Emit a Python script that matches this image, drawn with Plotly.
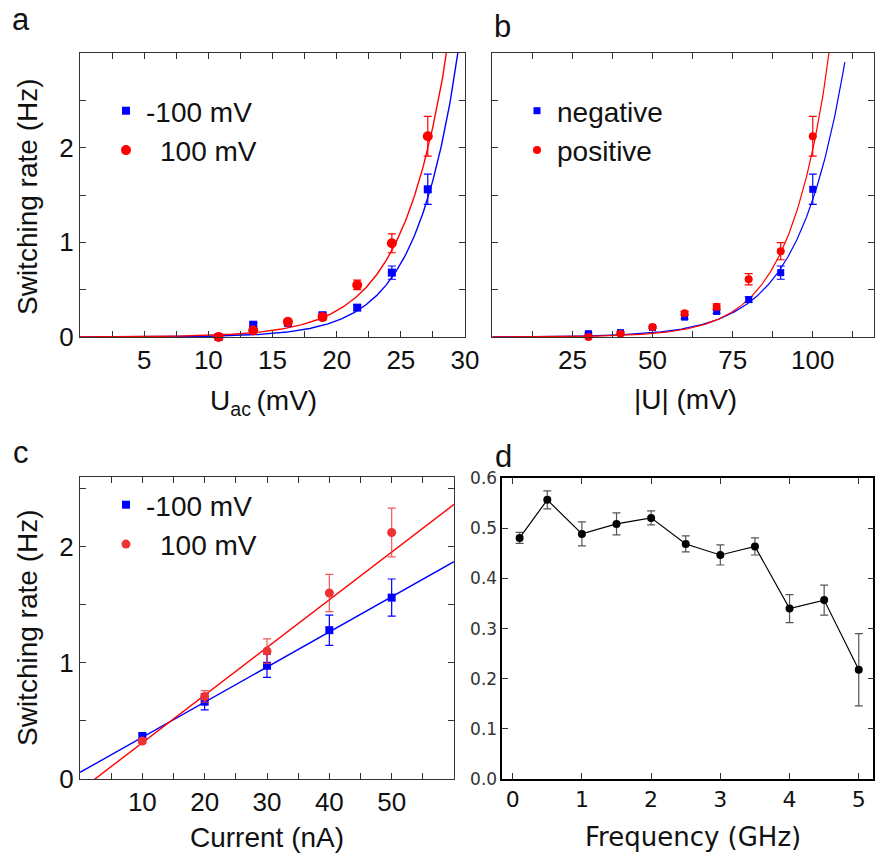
import numpy as np
import plotly.graph_objects as go

# ---------------- data ----------------
# panel a : switching rate vs U_ac
uac = [10.8, 13.5, 16.2, 18.9, 21.6, 24.3, 27.1]
a_neg = [0.0, 0.13, 0.15, 0.23, 0.31, 0.68, 1.56]
a_neg_err = [0.01, 0.02, 0.02, 0.02, 0.03, 0.07, 0.16]
a_pos = [0.0, 0.07, 0.16, 0.21, 0.55, 0.99, 2.12]
a_pos_err = [0.01, 0.02, 0.02, 0.03, 0.05, 0.10, 0.21]
# exponential fits  rate = A * exp(U / U0)
a_fit_neg = dict(A=3.98e-4, U0=3.3)
a_fit_pos = dict(A=1.07e-3, U0=3.6)

# panel b : switching rate vs |U|
u_abs = [30, 40, 50, 60, 70, 80, 90, 100]
b_neg = [0.035, 0.046, 0.10, 0.21, 0.27, 0.395, 0.68, 1.56]
b_neg_err = [0.01, 0.01, 0.01, 0.02, 0.02, 0.03, 0.07, 0.16]
b_pos = [0.0, 0.035, 0.105, 0.25, 0.32, 0.61, 0.906, 2.12]
b_pos_err = [0.01, 0.01, 0.01, 0.02, 0.03, 0.06, 0.09, 0.21]
b_fit_neg = dict(ref=100, val=1.45, U0=14.4, xmax=110)
b_fit_pos = dict(ref=100, val=1.98, U0=12.5, xmax=112)

# panel c : switching rate vs current
current = [10, 20, 30, 40, 50]
c_neg = [0.37, 0.665, 0.974, 1.28, 1.56]
c_neg_err = [0.02, 0.07, 0.10, 0.13, 0.16]
c_pos = [0.327, 0.71, 1.10, 1.60, 2.12]
c_pos_err = [0.02, 0.05, 0.105, 0.16, 0.21]
c_fit_neg = dict(slope=0.0302, intercept=0.057)
c_fit_pos = dict(slope=0.0410, intercept=-0.0985)

# panel d : vs frequency
freq = [0.1, 0.5, 1.0, 1.5, 2.0, 2.5, 3.0, 3.5, 4.0, 4.5, 5.0]
d_rate = [0.481, 0.557, 0.489, 0.509, 0.521, 0.469, 0.447, 0.464, 0.340, 0.357, 0.218]
d_err = [0.011, 0.018, 0.024, 0.022, 0.014, 0.016, 0.020, 0.017, 0.028, 0.030, 0.072]

# ---------------- styling ----------------
OFF = 8  # page body margin
W, H = 884 - OFF, 857 - OFF
BLUE = "#0000ff"
RED = "#ff0000"
ARIAL = "Liberation Sans, Arial, sans-serif"
DEJAVU = "DejaVu Sans, sans-serif"


def px_x(x):
    return (x - OFF) / W


def px_y(y):
    return 1 - (y - OFF) / H


fig = go.Figure()


def err(arr, color, width=4):
    return dict(type="data", array=arr, visible=True, color=color, thickness=1.2, width=width)


# ---- panel a ----
xa = np.linspace(0, 30, 400)
fig.add_trace(go.Scatter(x=xa, y=a_fit_neg["A"] * np.exp(xa / a_fit_neg["U0"]), mode="lines",
                         line=dict(color=BLUE, width=1.4), showlegend=False, xaxis="x", yaxis="y"))
fig.add_trace(go.Scatter(x=xa, y=a_fit_pos["A"] * np.exp(xa / a_fit_pos["U0"]), mode="lines",
                         line=dict(color=RED, width=1.4), showlegend=False, xaxis="x", yaxis="y"))
fig.add_trace(go.Scatter(x=uac, y=a_neg, error_y=err(a_neg_err, BLUE), mode="markers",
                         marker=dict(symbol="square", size=8, color=BLUE), name="-100 mV",
                         legend="legend", cliponaxis=False, xaxis="x", yaxis="y"))
fig.add_trace(go.Scatter(x=uac, y=a_pos, error_y=err(a_pos_err, RED), mode="markers",
                         marker=dict(symbol="circle", size=10, color=RED), name="\u2002100 mV",
                         legend="legend", cliponaxis=False, xaxis="x", yaxis="y"))

# ---- panel b ----
xbn = np.linspace(0, b_fit_neg["xmax"], 400)
xbp = np.linspace(0, b_fit_pos["xmax"], 400)
fig.add_trace(go.Scatter(x=xbn, y=b_fit_neg["val"] * np.exp((xbn - b_fit_neg["ref"]) / b_fit_neg["U0"]),
                         mode="lines", line=dict(color=BLUE, width=1.2), showlegend=False,
                         xaxis="x2", yaxis="y2"))
fig.add_trace(go.Scatter(x=xbp, y=b_fit_pos["val"] * np.exp((xbp - b_fit_pos["ref"]) / b_fit_pos["U0"]),
                         mode="lines", line=dict(color=RED, width=1.2), showlegend=False,
                         xaxis="x2", yaxis="y2"))
fig.add_trace(go.Scatter(x=u_abs, y=b_neg, error_y=err(b_neg_err, BLUE), mode="markers",
                         marker=dict(symbol="square", size=7, color=BLUE), name="negative",
                         legend="legend2", cliponaxis=False, xaxis="x2", yaxis="y2"))
fig.add_trace(go.Scatter(x=u_abs, y=b_pos, error_y=err(b_pos_err, RED), mode="markers",
                         marker=dict(symbol="circle", size=8, color=RED), name="positive",
                         legend="legend2", cliponaxis=False, xaxis="x2", yaxis="y2"))

# ---- panel c ----
xc = np.linspace(0, 60, 50)
fig.add_trace(go.Scatter(x=xc, y=c_fit_neg["slope"] * xc + c_fit_neg["intercept"], mode="lines",
                         line=dict(color=BLUE, width=1.4), showlegend=False, xaxis="x3", yaxis="y3"))
fig.add_trace(go.Scatter(x=xc, y=c_fit_pos["slope"] * xc + c_fit_pos["intercept"], mode="lines",
                         line=dict(color=RED, width=1.4), showlegend=False, xaxis="x3", yaxis="y3"))
fig.add_trace(go.Scatter(x=current, y=c_neg, error_y=err(c_neg_err, BLUE), mode="markers",
                         marker=dict(symbol="square", size=8, color=BLUE), name="-100 mV",
                         legend="legend3", cliponaxis=False, xaxis="x3", yaxis="y3"))
fig.add_trace(go.Scatter(x=current, y=c_pos, error_y=err(c_pos_err, "rgba(238,60,60,0.85)"), mode="markers",
                         marker=dict(symbol="circle", size=9, color="rgb(240,50,50)"), name="\u2002100 mV",
                         legend="legend3", cliponaxis=False, xaxis="x3", yaxis="y3"))

# ---- panel d ----
fig.add_trace(go.Scatter(x=freq, y=d_rate, error_y=err(d_err, "#555555", width=4),
                         mode="lines+markers", line=dict(color="black", width=1.2),
                         marker=dict(symbol="circle", size=8, color="black"), showlegend=False,
                         cliponaxis=False, xaxis="x4", yaxis="y4"))

# ---------------- axes ----------------
tickfont = dict(family=ARIAL, size=26, color="#111111")
common = dict(showgrid=False, zeroline=False, showline=True, linecolor="#333333", linewidth=1.3,
              ticks="inside", ticklen=6, tickwidth=1.2, tickcolor="#333333", mirror="allticks",
              tickfont=tickfont, automargin=False)


def labels(vals, shown, fmt=lambda v: f"{v:g}"):
    return [fmt(v) if any(abs(v - s) < 1e-9 for s in shown) else "" for v in vals]


xa_ticks = [i * 2.5 for i in range(13)]
ya_ticks = [i * 0.5 for i in range(7)]
xb_ticks = [i * 12.5 for i in range(10)]
xc_ticks = [i * 5 for i in range(13)]
yc_ticks = [i * 0.5 for i in range(6)]
xd_ticks = [0, 1, 2, 3, 4, 5]
yd_ticks = [0, 0.1, 0.2, 0.3, 0.4, 0.5, 0.6]

fig.update_layout(
    xaxis=dict(common, domain=[px_x(80), px_x(465)], anchor="y", range=[0, 30],
               tickvals=xa_ticks, ticktext=labels(xa_ticks, [5, 10, 15, 20, 25, 30])),
    yaxis=dict(common, domain=[px_y(337), px_y(53)], anchor="x", range=[0, 3.0],
               tickvals=ya_ticks, ticktext=labels(ya_ticks, [0, 1, 2])),
    xaxis2=dict(common, domain=[px_x(492.3), px_x(874.3)], anchor="y2", range=[0, 119.2],
                tickvals=xb_ticks, ticktext=labels(xb_ticks, [25, 50, 75, 100])),
    yaxis2=dict(common, domain=[px_y(337), px_y(53)], anchor="x2", range=[0, 3.0],
                tickvals=ya_ticks, ticktext=[""] * len(ya_ticks)),
    xaxis3=dict(common, domain=[px_x(80), px_x(454)], anchor="y3", range=[0, 60],
                tickvals=xc_ticks, ticktext=labels(xc_ticks, [10, 20, 30, 40, 50])),
    yaxis3=dict(common, domain=[px_y(779), px_y(476.7)], anchor="x3", range=[0, 2.6],
                tickvals=yc_ticks, ticktext=labels(yc_ticks, [0, 1, 2])),
    xaxis4=dict(showgrid=False, zeroline=False, showline=True, linecolor="black", linewidth=1.5,
                ticks="inside", ticklen=6, tickwidth=1, tickcolor="#333333", mirror="allticks",
                domain=[px_x(502.3), px_x(873.3)], anchor="y4", range=[-0.15, 5.21],
                tickvals=xd_ticks, ticktext=[str(v) for v in xd_ticks], automargin=False,
                tickfont=dict(family=DEJAVU, size=22, color="#111111")),
    yaxis4=dict(showgrid=False, zeroline=False, showline=True, linecolor="black", linewidth=1.5,
                ticks="inside", ticklen=6, tickwidth=1, tickcolor="#333333", mirror="allticks",
                domain=[px_y(779), px_y(478.3)], anchor="x4", range=[0, 0.6], automargin=False,
                tickvals=yd_ticks, ticktext=[f"{v:.1f}" for v in yd_ticks],
                tickfont=dict(family=DEJAVU, size=17, color="#333333")),
)

legend_common = dict(font=dict(family=ARIAL, size=28, color="#111111"), bgcolor="rgba(0,0,0,0)",
                     xanchor="left", yanchor="top", tracegroupgap=0, itemwidth=30)
fig.update_layout(
    legend=dict(legend_common, x=px_x(106), y=px_y(86)),
    legend2=dict(legend_common, x=px_x(517), y=px_y(86)),
    legend3=dict(legend_common, x=px_x(106), y=px_y(480)),
)

# ---------------- annotations ----------------
ann = []
title_font = dict(family=ARIAL, size=28, color="#111111")
ann.append(dict(text="Switching rate (Hz)", x=px_x(27), y=px_y(197), textangle=-90, font=title_font))
ann.append(dict(text="Switching rate (Hz)", x=px_x(27), y=px_y(628), textangle=-90, font=title_font))
ann.append(dict(text="U<sub>ac</sub>\u2009(mV)", x=px_x(263), y=px_y(402), font=title_font))
ann.append(dict(text="|U| (mV)", x=px_x(685), y=px_y(400), font=title_font))
ann.append(dict(text="Current (nA)", x=px_x(267), y=px_y(837), font=title_font))
ann.append(dict(text="Frequency (GHz)", x=px_x(693), y=px_y(837),
                font=dict(family=DEJAVU, size=26, color="#111111")))
panel_font = dict(family=ARIAL, size=31, color="#111111")
ann.append(dict(text="a", x=px_x(21), y=px_y(20), font=panel_font))
ann.append(dict(text="b", x=px_x(502), y=px_y(26), font=panel_font))
ann.append(dict(text="c", x=px_x(21), y=px_y(452), font=panel_font))
ann.append(dict(text="d", x=px_x(503), y=px_y(456), font=panel_font))
for a in ann:
    a.update(xref="paper", yref="paper", showarrow=False, xanchor="center", yanchor="middle")

fig.update_layout(annotations=ann, width=W, height=H,
                  margin=dict(l=0, r=0, t=0, b=0, pad=0, autoexpand=False),
                  paper_bgcolor="white", plot_bgcolor="white", showlegend=True)

fig.write_html("out.html")
